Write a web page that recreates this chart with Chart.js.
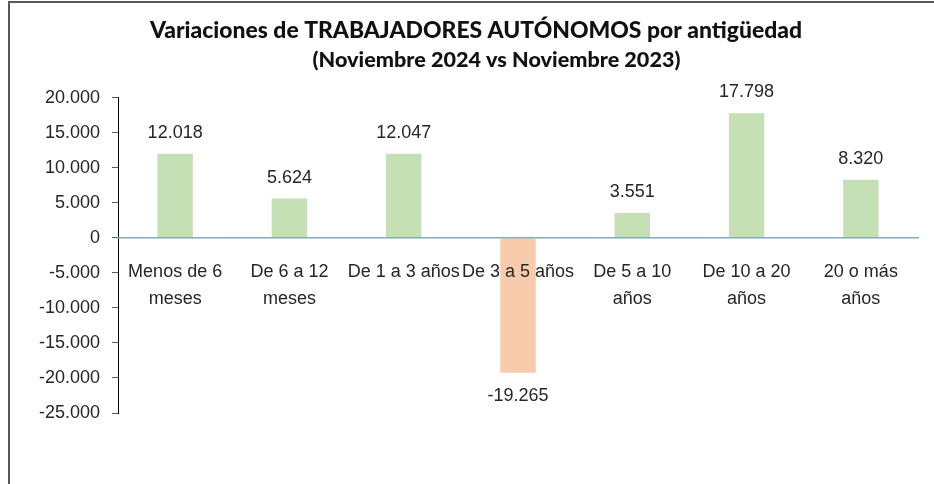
<!DOCTYPE html>
<html>
<head>
<meta charset="utf-8">
<script src="https://cdn.jsdelivr.net/npm/chart.js@4.4.1/dist/chart.umd.min.js"></script>
<style>
  body { margin: 0; background: #fff; }
  #wrap { position: relative; width: 934px; height: 484px; }
  #frame { position: absolute; left: 8px; top: 1px; width: 940px; height: 490px;
           border-top: 2px solid #595959; border-left: 2px solid #595959; }
  canvas { position: absolute; left: 0; top: 0; }
</style>
</head>
<body>
<div id="wrap">
  <div id="frame"></div>
  <canvas id="myChart" width="934" height="484"></canvas>
</div>
<script>
// categorias (antigüedad) y variaciones
const categorias = [
  ['Menos de 6', 'meses'],
  ['De 6 a 12', 'meses'],
  'De 1 a 3 años',
  'De 3 a 5 años',
  ['De 5 a 10', 'años'],
  ['De 10 a 20', 'años'],
  ['20 o más', 'años']
];
const variaciones = [12018, 5624, 12047, -19265, 3551, 17798, 8320];
const ejeMin = -25000;
const ejeMax = 20000;
const ejePaso = 5000;

const fmt = v => v.toLocaleString('de-DE');

// etiquetas de datos encima / debajo de cada barra
const etiquetas = {
  id: 'etiquetas',
  afterDatasetsDraw(chart) {
    const ctx = chart.ctx;
    const meta = chart.getDatasetMeta(0);
    ctx.save();
    ctx.font = "18px 'Liberation Sans', Arial, sans-serif";
    ctx.fillStyle = '#262626';
    ctx.textAlign = 'center';
    ctx.textBaseline = 'middle';
    meta.data.forEach((bar, i) => {
      const v = variaciones[i];
      const y = v >= 0 ? bar.y - 21 : bar.y + 23;
      ctx.fillText(fmt(v), bar.x, y);
    });
    ctx.restore();
  }
};

const ctx = document.getElementById('myChart');

const data = {
  labels: categorias,
  datasets: [{
    data: variaciones,
    backgroundColor: variaciones.map(v => v < 0 ? '#f8cbad' : '#c5e0b4'),
    categoryPercentage: 1,
    barPercentage: 0.31
  }]
};

const config = {
  type: 'bar',
  data: data,
  options: {
    responsive: false,
    animation: false,
    layout: { padding: { left: 34, right: 16, top: 0, bottom: 71 } },
    plugins: {
      legend: { display: false },
      tooltip: { enabled: false },
      title: {
        display: true,
        text: 'Variaciones de TRABAJADORES AUTÓNOMOS por antigüedad',
        color: '#111111',
        font: { family: "Lato, 'Open Sans', sans-serif", size: 22.9, weight: 900, lineHeight: 1.1 },
        padding: { top: 18, bottom: 5 }
      },
      subtitle: {
        display: true,
        text: '\u00a0'.repeat(8) + '(Noviembre 2024 vs Noviembre 2023)',
        color: '#111111',
        font: { family: "Lato, 'Open Sans', sans-serif", size: 21.6, weight: 900, lineHeight: 1.1 },
        padding: { top: 0, bottom: 26 }
      }
    },
    scales: {
      x: {
        position: { y: 0 },
        grid: { display: false },
        border: { display: true, color: '#84a9bd', width: 1.5, z: 1 },
        ticks: {
          z: 1,
          color: '#262626',
          padding: 13,
          maxRotation: 0,
          autoSkip: false,
          font: { family: "'Liberation Sans', Arial, sans-serif", size: 18, lineHeight: 1.5 }
        }
      },
      y: {
        min: ejeMin,
        max: ejeMax,
        afterFit(scale) { scale.width = 84; },
        grid: { drawOnChartArea: false, tickLength: 6, color: '#595959' },
        border: { display: true, color: '#000000', width: 1 },
        ticks: {
          stepSize: ejePaso,
          padding: 12,
          color: '#262626',
          font: { family: "'Liberation Sans', Arial, sans-serif", size: 18 },
          callback: v => fmt(v)
        }
      }
    }
  },
  plugins: [etiquetas]
};

const myChart = new Chart(ctx, config);
</script>
</body>
</html>
